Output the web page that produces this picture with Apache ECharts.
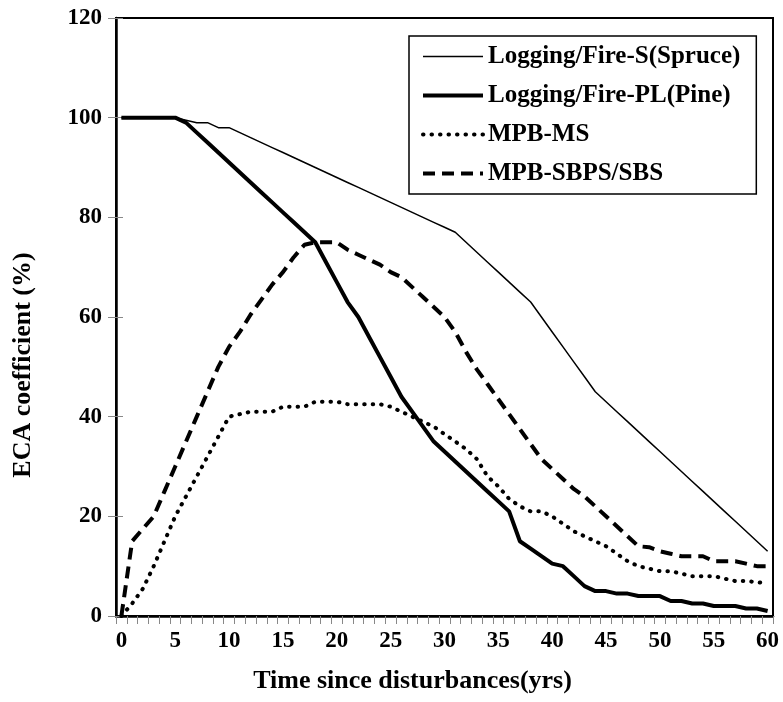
<!DOCTYPE html>
<html>
<head>
<meta charset="utf-8">
<script src="https://cdn.jsdelivr.net/npm/echarts@6/dist/echarts.min.js"></script>
<style>
  html, body { margin: 0; padding: 0; background: #fff; }
  #main { width: 783px; height: 702px; }
</style>
</head>
<body>
<div id="main"></div>
<script>
// years 0..60
var years = [];
for (var i = 0; i <= 60; i++) years.push(String(i));

var seriesNames = ['Logging/Fire-S(Spruce)', 'Logging/Fire-PL(Pine)', 'MPB-MS', 'MPB-SBPS/SBS'];

var spruce = [100, 100, 100, 100, 100, 100, 99.5, 99, 99, 98, 98,
  97, 96, 95, 94, 93, 92, 91, 90, 89, 88, 87, 86, 85, 84, 83, 82, 81, 80, 79, 78, 77,
  75, 73, 71, 69, 67, 65, 63,
  60, 57, 54, 51, 48, 45,
  43, 41, 39, 37, 35, 33, 31, 29, 27, 25, 23, 21, 19, 17, 15, 13];

var pine = [100, 100, 100, 100, 100, 100,
  99, 97, 95, 93, 91, 89, 87, 85, 83, 81, 79, 77, 75,
  71, 67, 63, 60,
  56, 52, 48, 44, 41, 38, 35,
  33, 31, 29, 27, 25, 23, 21,
  15, 13.5, 12, 10.5, 10, 8, 6, 5, 5, 4.5, 4.5, 4, 4, 4, 3, 3, 2.5, 2.5, 2, 2, 2, 1.5, 1.5, 1];

var ms = [0, 2.5, 5.5, 10, 15, 20, 24, 28, 32, 36, 40,
  40.5, 41, 41, 41, 42, 42, 42, 43, 43, 43,
  42.5, 42.5, 42.5, 42.5, 42, 41, 40, 39, 38, 36.5,
  35, 33.5, 31.5, 28, 26, 23.5, 22, 21, 21, 20,
  18.5, 17, 16, 15, 14, 12.5, 11, 10, 9.5, 9,
  9, 8.5, 8, 8, 8, 7.5, 7, 7, 6.8, 6.5];

var sbps = [0, 15, 17.5, 20, 25, 30, 35, 40, 45, 50, 54,
  57, 60.5, 63.5, 66.5, 69, 72, 74.5, 75, 75, 75,
  73.5, 72.5, 71.5, 70.5, 69, 68, 66, 64, 62, 60,
  57, 53, 49.5, 46.5, 43.5, 40.5, 37.5, 34.5, 31.5, 29.5,
  27.5, 25.5, 24, 22, 20, 18, 16, 14, 13.8, 13,
  12.5, 12, 12, 12, 11, 11, 11, 10.5, 10, 10];

var font = 'Liberation Serif';

var styles = [
  { color: '#000', width: 1.5 },
  { color: '#000', width: 4 },
  { color: '#000', width: 4, type: [0.5, 8], cap: 'round' },
  { color: '#000', width: 4, type: [12, 7] }
];

var chart = echarts.init(document.getElementById('main'), null, { renderer: 'canvas' });

var option = {
  backgroundColor: '#ffffff',
  animation: false,
  textStyle: { fontFamily: font, fontWeight: 'bold', color: '#000' },
  grid: {
    left: 116, right: 10, top: 18, bottom: 86,
    show: true, borderColor: '#000', borderWidth: 2
  },
  legend: {
    orient: 'vertical',
    left: 409, top: 36,
    padding: [8, 16, 8, 12],
    borderColor: '#000', borderWidth: 1.5,
    itemWidth: 60, itemHeight: 25, itemGap: 14,
    itemStyle: { opacity: 0 },
    textStyle: { fontFamily: font, fontWeight: 'bold', fontSize: 25, color: '#000' },
    data: seriesNames.map(function (n, k) {
      return { name: n, itemStyle: { opacity: 0 }, lineStyle: styles[k] };
    })
  },
  xAxis: {
    type: 'category',
    data: years,
    boundaryGap: true,
    name: 'Time since disturbances(yrs)',
    nameLocation: 'middle',
    nameGap: 52,
    nameTextStyle: { fontFamily: font, fontWeight: 'bold', fontSize: 26, color: '#000', padding: [0, 64, 0, 0] },
    axisLine: { lineStyle: { color: '#000', width: 2.5 } },
    axisTick: { show: true, interval: 0, length: 8, lineStyle: { color: '#888', width: 1 } },
    axisLabel: { interval: 4, margin: 14, fontFamily: font, fontWeight: 'bold', fontSize: 23, color: '#000' },
    splitLine: { show: false }
  },
  yAxis: [{
    type: 'value',
    min: 0, max: 120, interval: 20,
    name: 'ECA coefficient (%)',
    nameLocation: 'middle',
    nameGap: 80,
    nameRotate: 90,
    nameTextStyle: { fontFamily: font, fontWeight: 'bold', fontSize: 26, color: '#000', padding: [0, 96, 0, 0] },
    axisLine: { show: true, lineStyle: { color: '#000', width: 2.5 } },
    axisTick: { show: true, length: 8, lineStyle: { color: '#888', width: 1 } },
    axisLabel: { margin: 14, fontFamily: font, fontWeight: 'bold', fontSize: 23, color: '#000' },
    splitLine: { show: false }
  }, {
    // inner half of the crossing tick marks
    type: 'value',
    min: 0, max: 120, interval: 20,
    position: 'left',
    axisLine: { show: false },
    axisTick: { show: true, inside: true, length: 7, lineStyle: { color: '#888', width: 1 } },
    axisLabel: { show: false },
    splitLine: { show: false }
  }],
  series: [
    { name: seriesNames[0], type: 'line', data: spruce, symbol: 'none', lineStyle: styles[0], itemStyle: { color: '#000' } },
    { name: seriesNames[1], type: 'line', data: pine, symbol: 'none', lineStyle: styles[1], itemStyle: { color: '#000' } },
    { name: seriesNames[2], type: 'line', data: ms, symbol: 'none', lineStyle: styles[2], itemStyle: { color: '#000' } },
    { name: seriesNames[3], type: 'line', data: sbps, symbol: 'none', lineStyle: styles[3], itemStyle: { color: '#000' } }
  ]
};

chart.setOption(option);
</script>
</body>
</html>
